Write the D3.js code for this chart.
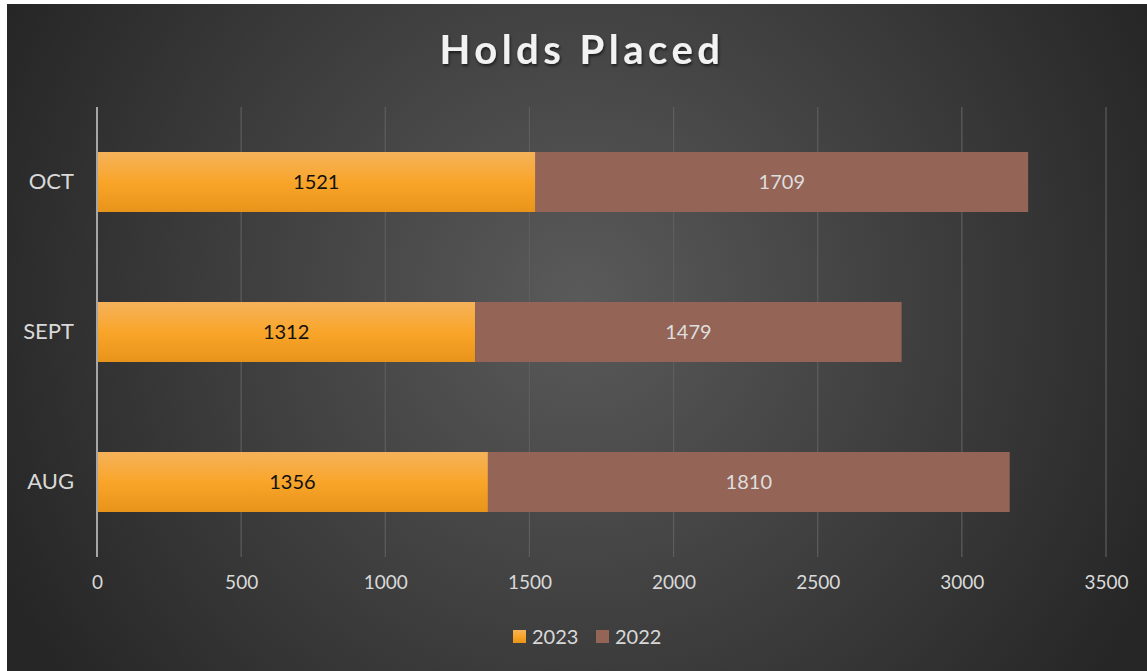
<!DOCTYPE html>
<html><head><meta charset="utf-8">
<script src="https://cdn.jsdelivr.net/npm/d3@7"></script>
<style>html,body{margin:0;padding:0;background:#fff;overflow:hidden}</style>
</head><body>
<svg id="c" width="1147" height="671"></svg>
<script>
const categories = ["OCT", "SEPT", "AUG"];
const series = ["2023", "2022"];
const values2023 = [1521, 1312, 1356];
const values2022 = [1709, 1479, 1810];
const xTicks = [0, 500, 1000, 1500, 2000, 2500, 3000, 3500];
const title = "Holds Placed";

const svg = d3.select("#c");
const W = 1147, H = 671;
const defs = svg.append("defs");
const rg = defs.append("radialGradient").attr("id","bg").attr("gradientUnits","userSpaceOnUse")
  .attr("cx",580).attr("cy",300).attr("r",640);
rg.append("stop").attr("offset","0%").attr("stop-color","#5a5a5a");
rg.append("stop").attr("offset","100%").attr("stop-color","#262626");
const og = defs.append("linearGradient").attr("id","og").attr("x1",0).attr("y1",0).attr("x2",0).attr("y2",1);
og.append("stop").attr("offset","0%").attr("stop-color","#f5b25a");
og.append("stop").attr("offset","50%").attr("stop-color","#f9a52a");
og.append("stop").attr("offset","100%").attr("stop-color","#e8941a");
const sh = defs.append("filter").attr("id","sh").attr("x","-10%").attr("y","-30%").attr("width","120%").attr("height","160%");
sh.append("feDropShadow").attr("dx",1).attr("dy",2).attr("stdDeviation",1.5).attr("flood-color","#000").attr("flood-opacity",0.6);

svg.append("rect").attr("x",7).attr("y",4).attr("width",W-7).attr("height",H-4).attr("fill","url(#bg)");

const x = d3.scaleLinear().domain([0,3500]).range([97,1106]);
const y = d3.scaleBand().domain(categories).range([107,557]).paddingInner(0.6).paddingOuter(0.3);

const font = "'Gill Sans','Lato','Noto Sans',sans-serif";

// gridlines
svg.append("g").selectAll("line").data(xTicks.slice(1)).join("line")
  .attr("x1",d=>x(d)).attr("x2",d=>x(d)).attr("y1",107).attr("y2",557)
  .attr("stroke","#5e5e5e").attr("stroke-width",1.2);

// stacked bars
const data = categories.map((c,i)=>({c, a:values2023[i], b:values2022[i]}));
const colors = ["url(#og)", "#946456"];
const stack = d3.stack().keys(["a","b"])(data);
stack.forEach((layer,li)=>{
  svg.append("g").selectAll("rect").data(layer).join("rect")
    .attr("x",d=>x(d[0])).attr("width",d=>x(d[1])-x(d[0]))
    .attr("y",d=>y(d.data.c)).attr("height",y.bandwidth())
    .attr("fill",colors[li]);
  svg.append("g").selectAll("text").data(layer).join("text")
    .attr("x",d=>(x(d[0])+x(d[1]))/2).attr("y",d=>y(d.data.c)+y.bandwidth()/2)
    .attr("dy","0.35em").attr("text-anchor","middle")
    .attr("font-family",font).attr("font-size",20)
    .attr("fill", li===0 ? "#111" : "#dedede")
    .text(d=>d.data[li===0?"a":"b"]);
});

// axis line
svg.append("line").attr("x1",97).attr("x2",97).attr("y1",107).attr("y2",557)
  .attr("stroke","#a6a6a6").attr("stroke-width",2);

// y labels
const ya = svg.append("g").attr("transform","translate(97,0)").call(d3.axisLeft(y).tickSize(0).tickPadding(23));
ya.select(".domain").remove();
ya.selectAll("text").attr("font-family",font).attr("font-size",22).attr("fill","#d9d9d9");

// x labels
const xa = svg.append("g").attr("transform","translate(0,557)").call(d3.axisBottom(x).tickValues(xTicks).tickSize(0).tickPadding(19).tickFormat(d3.format("d")));
xa.select(".domain").remove();
xa.selectAll("text").attr("font-family",font).attr("font-size",19).attr("fill","#d9d9d9");

// title
svg.append("text").attr("x",582).attr("y",64).attr("text-anchor","middle")
  .attr("font-family",font).attr("font-weight","bold").attr("font-size",40)
  .attr("letter-spacing",4.5).attr("fill","#f2f2f2").attr("filter","url(#sh)").text(title);

// legend
const leg = svg.append("g");
const legItems = [{t:series[0], c:"url(#og)", x:513},{t:series[1], c:"#946456", x:596}];
legItems.forEach(l=>{
  leg.append("rect").attr("x",l.x).attr("y",630).attr("width",13).attr("height",13).attr("fill",l.c);
  leg.append("text").attr("x",l.x+19).attr("y",637).attr("dy","0.35em")
    .attr("font-family",font).attr("font-size",20).attr("fill","#d9d9d9").text(l.t);
});
</script>
</body></html>
